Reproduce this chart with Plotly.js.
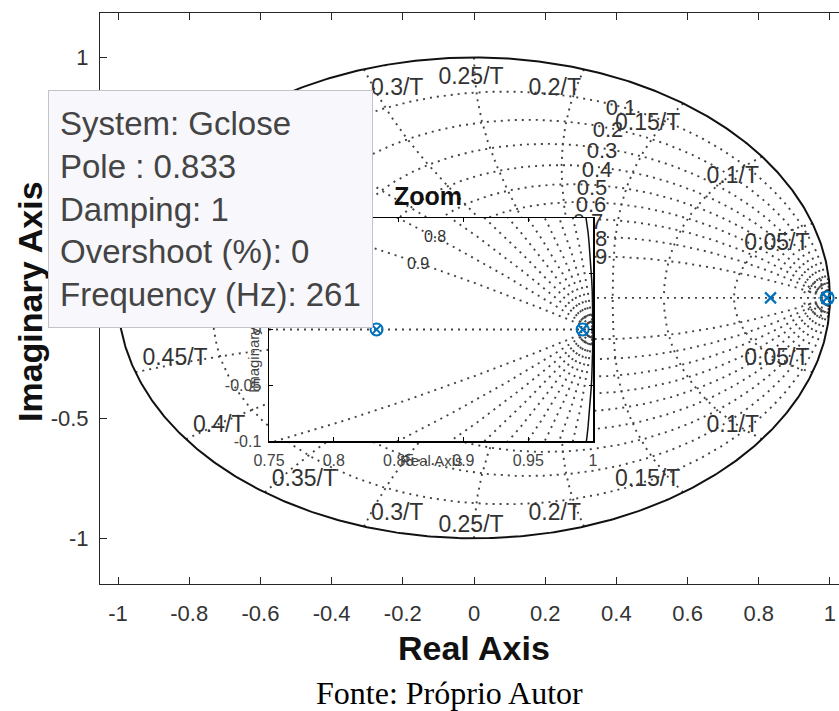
<!DOCTYPE html>
<html><head><meta charset="utf-8">
<script src="https://cdn.plot.ly/plotly-3.0.1.min.js"></script>
<style>html,body{margin:0;padding:0;overflow:hidden;background:#fff}#chart{width:860px;height:711px}</style>
</head><body><div id="chart"></div>
<script>
// ---------------- data ----------------
const poleRe = [0.833, 0.992];
const poleIm = [0, 0];
const zeroRe = [0.992];
const zeroIm = [0];
const zoomPoleRe = [0.833, 0.992];
const zoomPoleIm = [0, 0];
const zoomZeroRe = [0.833, 0.992];
const zoomZeroIm = [0, 0];
const zetaValues = [0.1, 0.2, 0.3, 0.4, 0.5, 0.6, 0.7, 0.8, 0.9];
const zetaLabels = ['0.1', '0.2', '0.3', '0.4', '0.5', '0.6', '0.7', '0.8', '0.9'];
const freqValues = [0.05, 0.1, 0.15, 0.2, 0.25, 0.3, 0.35, 0.4, 0.45, 0.5];
const freqLabels = ['0.05/T', '0.1/T', '0.15/T', '0.2/T', '0.25/T', '0.3/T', '0.35/T', '0.4/T', '0.45/T', '0.5/T'];
const smallFreqMain = [0.0025, 0.005, 0.0075, 0.01, 0.0125];
const smallFreqZoom = [0.0005, 0.001, 0.0015, 0.002];
const zoomZetaLabels = ['0.8', '0.9'];
const xTickVals = [-1, -0.8, -0.6, -0.4, -0.2, 0, 0.2, 0.4, 0.6, 0.8, 1];
const xTickText = ['-1', '-0.8', '-0.6', '-0.4', '-0.2', '0', '0.2', '0.4', '0.6', '0.8', '1'];
const yTickVals = [-1, -0.5, 0, 0.5, 1];
const yTickText = ['-1', '-0.5', '0', '0.5', '1'];
const zoomXTickVals = [0.75, 0.8, 0.85, 0.9, 0.95, 1];
const zoomXTickText = ['0.75', '0.8', '0.85', '0.9', '0.95', '1'];
const zoomYTickVals = [-0.1, -0.05, 0, 0.05, 0.1];
const zoomYTickText = ['-0.1', '-0.05', '0', '0.05', '0.1'];
const datatipLines = ['System: Gclose', 'Pole : 0.833', 'Damping: 1', 'Overshoot (%): 0', 'Frequency (Hz): 261'];

// ---------------- geometry ----------------
const W = 860, H = 711;
const L = 100, R = 848, T = 13, B = 584;
const XR = [-1.0506, 1.0506], YR = [-1.19, 1.185];
const IL = 269, IR = 593, IT = 218, IB = 441;
const IXR = [0.75, 1.0], IYR = [-0.1, 0.1];
const FONT = 'Liberation Sans, Arial, Helvetica, sans-serif';

const pxX = (XR[1] - XR[0]) / (R - L), pxY = (YR[1] - YR[0]) / (B - T);
const mx = px => XR[0] + (px - L) * pxX;
const my = py => YR[1] - (py - T) * pxY;
const ix = px => IXR[0] + (px - IL) * (IXR[1] - IXR[0]) / (IR - IL);
const iy = py => IYR[1] - (py - IT) * (IYR[1] - IYR[0]) / (IB - IT);
const paperX = px => (px - L) / (R - L);
const paperY = py => (B - py) / (B - T);

// z-plane grid curves (zgrid)
function zetaCurves() {
  const xs = [], ys = [];
  zetaValues.forEach(z => {
    const w = Math.sqrt(1 - z * z), umax = Math.PI / w, N = 500;
    [1, -1].forEach(sg => {
      for (let i = 0; i <= N; i++) {
        const u = umax * Math.pow(i / N, 1.6);
        const r = Math.exp(-z * u);
        xs.push(r * Math.cos(w * u)); ys.push(sg * r * Math.sin(w * u));
      }
      xs.push(null); ys.push(null);
    });
  });
  return {x: xs, y: ys};
}
function freqCurves(list) {
  const xs = [], ys = [];
  list.forEach(f => {
    const wn = 2 * Math.PI * f, N = 150;
    [1, -1].forEach(sg => {
      for (let i = 0; i <= N; i++) {
        const z = i / N;
        const r = Math.exp(-z * wn), a = wn * Math.sqrt(1 - z * z);
        xs.push(r * Math.cos(a)); ys.push(sg * r * Math.sin(a));
      }
      xs.push(null); ys.push(null);
    });
  });
  return {x: xs, y: ys};
}
function unitCircle() {
  const xs = [], ys = [];
  for (let i = 0; i <= 720; i++) { const a = 2 * Math.PI * i / 720; xs.push(Math.cos(a)); ys.push(Math.sin(a)); }
  return {x: xs, y: ys};
}

const gridLine = {color: '#444444', width: 1.9, dash: '2px,5px'};
const blue = '#0072BD';
const traces = [];
const zc = zetaCurves(), fc = freqCurves(freqValues), sfm = freqCurves(smallFreqMain), sfz = freqCurves(smallFreqZoom), uc = unitCircle();

// ----- main axes -----
traces.push({x: zc.x, y: zc.y, mode: 'lines', line: gridLine, xaxis: 'x', yaxis: 'y'});
traces.push({x: fc.x, y: fc.y, mode: 'lines', line: gridLine, xaxis: 'x', yaxis: 'y'});
traces.push({x: sfm.x, y: sfm.y, mode: 'lines', line: gridLine, xaxis: 'x', yaxis: 'y'});
traces.push({x: [XR[0], XR[1]], y: [0, 0], mode: 'lines', line: gridLine, xaxis: 'x', yaxis: 'y'});
traces.push({x: uc.x, y: uc.y, mode: 'lines', line: {color: '#111', width: 2}, xaxis: 'x', yaxis: 'y'});

// frequency labels
(function () {
  const xs = [], ys = [], tp = [], tx = [];
  freqValues.forEach((f, k) => {
    const a = 2 * Math.PI * f;
    const h = f < 0.25 ? 'left' : (f > 0.25 ? 'right' : 'center');
    const dx = f < 0.25 ? -3 : (f > 0.25 ? 7 : -3);
    xs.push(Math.cos(a) + dx * pxX); ys.push(Math.sin(a) - 9 * pxY); tp.push('bottom ' + h); tx.push(freqLabels[k]);
    if (f < 0.5) { xs.push(Math.cos(a) + dx * pxX); ys.push(-Math.sin(a) + 1 * pxY); tp.push('top ' + h); tx.push(freqLabels[k]); }
  });
  traces.push({x: xs, y: ys, text: tx, mode: 'text', textposition: tp, textfont: {family: FONT, size: 23, color: '#333'}, xaxis: 'x', yaxis: 'y'});
})();
// damping labels (main)
(function () {
  const pos = [[621, 109], [608, 131], [602, 152], [597, 171], [592, 189], [591, 206], [588, 223], [592, 240], [592, 258]];
  traces.push({x: pos.map(p => mx(p[0])), y: pos.map(p => my(p[1])), text: zetaLabels, mode: 'text', textposition: 'middle center',
    textfont: {family: FONT, size: 22, color: '#333'}, xaxis: 'x', yaxis: 'y'});
})();
traces.push({x: zeroRe, y: zeroIm, mode: 'markers', marker: {symbol: 'circle-open', size: 13, color: blue, line: {width: 2, color: blue}}, xaxis: 'x', yaxis: 'y'});
traces.push({x: poleRe, y: poleIm, mode: 'markers', marker: {symbol: 'x-thin-open', size: 11, color: blue, line: {width: 2.2, color: blue}}, xaxis: 'x', yaxis: 'y'});

// ----- zoom axes -----
traces.push({x: [IXR[0], IXR[1], IXR[1], IXR[0], IXR[0]], y: [IYR[0], IYR[0], IYR[1], IYR[1], IYR[0]], mode: 'lines', fill: 'toself', fillcolor: '#ffffff', line: {width: 0, color: '#fff'}, xaxis: 'x2', yaxis: 'y2'});
traces.push({x: zc.x, y: zc.y, mode: 'lines', line: gridLine, xaxis: 'x2', yaxis: 'y2'});
traces.push({x: sfz.x, y: sfz.y, mode: 'lines', line: gridLine, xaxis: 'x2', yaxis: 'y2'});
traces.push({x: [IXR[0], IXR[1]], y: [0, 0], mode: 'lines', line: gridLine, xaxis: 'x2', yaxis: 'y2'});
traces.push({x: uc.x, y: uc.y, mode: 'lines', line: {color: '#111', width: 1.5}, xaxis: 'x2', yaxis: 'y2'});
(function () {
  const pos = [[435, 238], [418, 265]];
  traces.push({x: pos.map(p => ix(p[0])), y: pos.map(p => iy(p[1])), text: zoomZetaLabels, mode: 'text', textposition: 'middle center',
    textfont: {family: FONT, size: 16, color: '#333'}, xaxis: 'x2', yaxis: 'y2'});
})();
traces.push({x: zoomZeroRe, y: zoomZeroIm, mode: 'markers', marker: {symbol: 'circle-open', size: 12, color: blue, line: {width: 2, color: blue}}, xaxis: 'x2', yaxis: 'y2'});
traces.push({x: zoomPoleRe, y: zoomPoleIm, mode: 'markers', marker: {symbol: 'x-thin-open', size: 8, color: blue, line: {width: 1.8, color: blue}}, xaxis: 'x2', yaxis: 'y2'});

const axCommon = {showgrid: false, zeroline: false, showline: true, linecolor: '#262626', linewidth: 1, ticks: 'inside', tickcolor: '#262626', mirror: 'ticks', fixedrange: true};
const ann = (o) => Object.assign({xref: 'paper', yref: 'paper', xanchor: 'center', yanchor: 'middle', showarrow: false}, o);

const layout = {
  width: W, height: H, showlegend: false, hovermode: false,
  paper_bgcolor: '#ffffff', plot_bgcolor: '#ffffff',
  margin: {l: L, r: W - R, t: T, b: H - B, pad: 0},
  xaxis: Object.assign({}, axCommon, {range: XR, tickvals: xTickVals, ticktext: xTickText, ticklen: 7, tickwidth: 1,
    tickfont: {family: FONT, size: 22, color: '#333'}, ticklabelstandoff: 10, domain: [0, 1], anchor: 'y'}),
  yaxis: Object.assign({}, axCommon, {range: YR, tickvals: yTickVals, ticktext: yTickText, ticklen: 7, tickwidth: 1,
    tickfont: {family: FONT, size: 22, color: '#333'}, ticklabelstandoff: 6, domain: [0, 1], anchor: 'x'}),
  xaxis2: Object.assign({}, axCommon, {range: IXR, tickvals: zoomXTickVals, ticktext: zoomXTickText, ticklen: 4,
    linecolor: '#000', tickcolor: '#000', linewidth: 1.5,
    tickfont: {family: FONT, size: 16, color: '#444'}, ticklabelstandoff: 4,
    domain: [paperX(IL), paperX(IR)], anchor: 'y2'}),
  yaxis2: Object.assign({}, axCommon, {range: IYR, tickvals: zoomYTickVals, ticktext: zoomYTickText, ticklen: 4,
    linecolor: '#000', tickcolor: '#000', linewidth: 1.5,
    tickfont: {family: FONT, size: 16, color: '#444'}, ticklabelstandoff: 3,
    domain: [paperY(IB), paperY(IT)], anchor: 'x2'}),
  annotations: [
    ann({text: '<b>Real Axis</b>', x: paperX(474), y: paperY(648), font: {family: FONT, size: 34, color: '#111'}}),
    ann({text: '<b>Imaginary Axis</b>', x: paperX(30), y: paperY(302), textangle: -90, font: {family: FONT, size: 34, color: '#111'}}),
    ann({text: 'Fonte: Próprio Autor', x: paperX(449), y: paperY(693), font: {family: 'Liberation Serif, Times New Roman, serif', size: 32, color: '#000'}}),
    ann({text: '<b>Zoom</b>', x: paperX(428), y: paperY(196), font: {family: FONT, size: 25, color: '#111'}}),
    ann({text: 'Real Axis', x: paperX(431), y: paperY(460), font: {family: FONT, size: 15, color: '#444'}}),
    ann({text: 'Imaginary Axis', x: paperX(253), y: paperY(344), textangle: -90, font: {family: FONT, size: 15, color: '#444'}}),
    ann({text: datatipLines.join('<br>'), x: paperX(210.5), y: paperY(209),
      align: 'left', valign: 'middle', width: 301, height: 214, borderpad: 11, borderwidth: 1,
      bgcolor: '#f8f8fc', bordercolor: '#c4c4c8', font: {family: FONT, size: 33, color: '#444'}})
  ]
};

Plotly.newPlot('chart', traces, layout, {displayModeBar: false, staticPlot: true});
</script>
</body></html>
